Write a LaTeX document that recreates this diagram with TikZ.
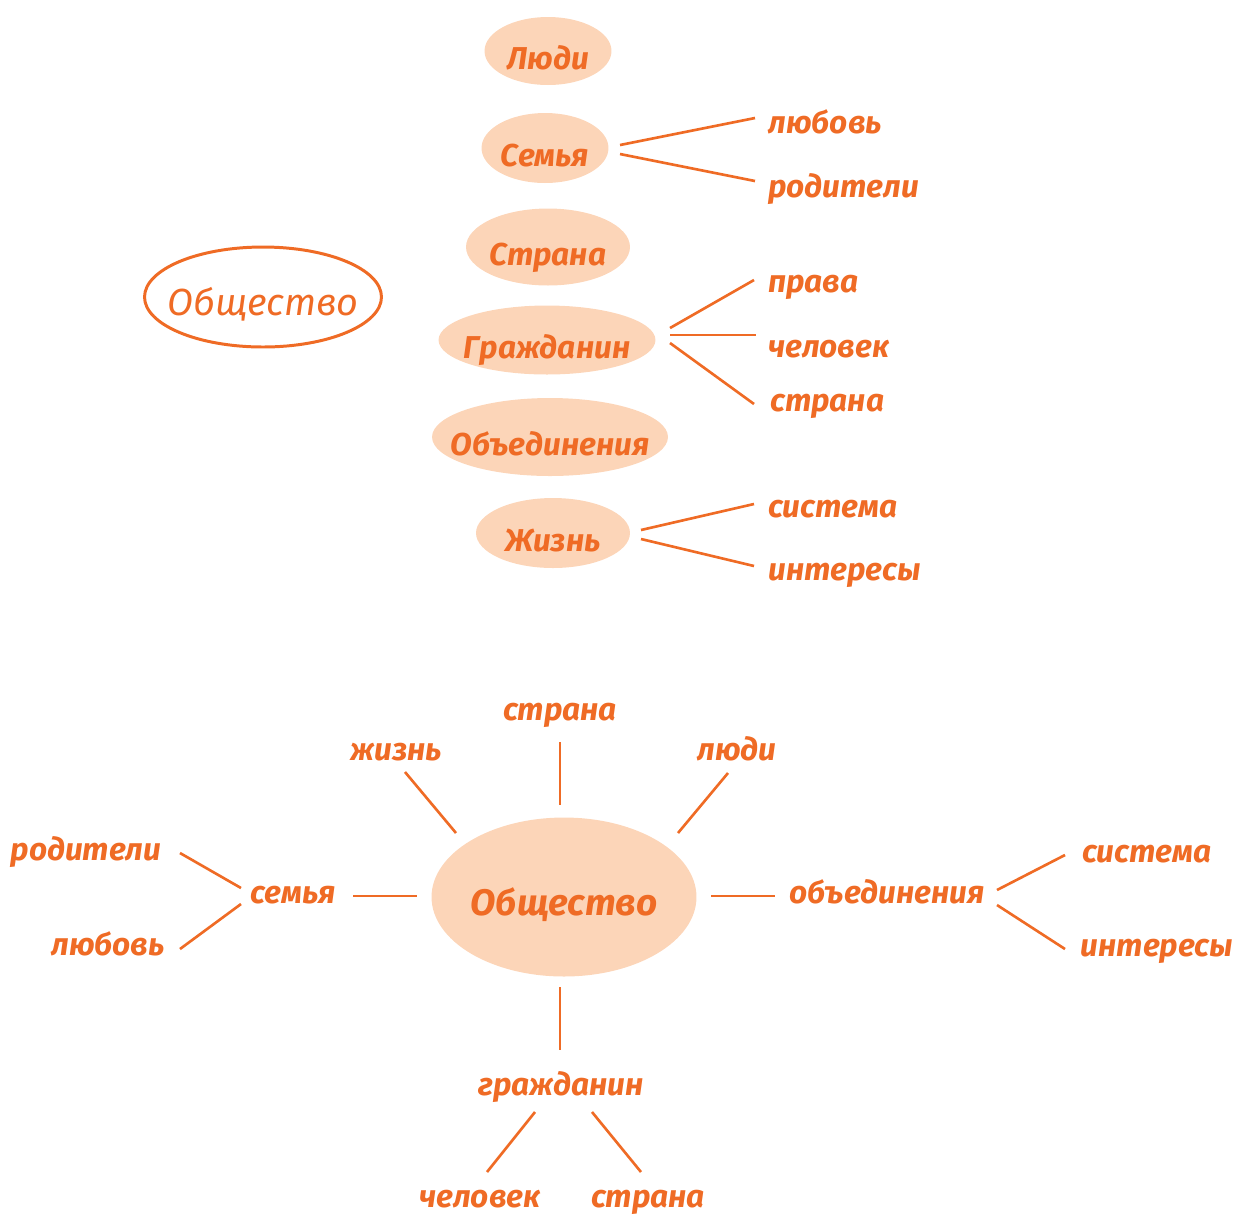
\documentclass[tikz,border=0pt]{standalone}
\usepackage{fontspec}
\setmainfont{Fira Sans}
\usetikzlibrary{shapes.geometric}
\definecolor{orng}{HTML}{EF6B25}
\definecolor{peach}{HTML}{FCD5B8}
\newcommand{\blobtxt}[1]{\makebox[0pt]{\raisebox{-0.3em}{#1}}}
\begin{document}
\begin{tikzpicture}[x=0.02cm,y=-0.02cm,
  hand/.style={font=\fontsize{18}{20}\selectfont\bfseries\itshape},
  lbl/.style={hand,text=orng,inner sep=0pt,text height=0.75em,text depth=0.25em},
  lblw/.style={lbl,anchor=base west},
  lblc/.style={lbl,anchor=base},
  blob/.style={hand,ellipse,fill=peach,text=orng,inner sep=0pt,text height=1.0em,text depth=0pt},
  big/.style={font=\fontsize{21.5}{24}\selectfont\itshape,text=orng,ellipse,inner sep=0pt,text height=0.8em,text depth=0pt},
  ln/.style={draw=orng,line width=1.5pt}]
\useasboundingbox (0,0) rectangle (1236,1215);

% ---------- top part ----------
\node[big,draw=orng,line width=1.7pt,minimum width=4.74cm,minimum height=2.0cm] (obshT) at (263,297) {\blobtxt{Общество}};

\node[blob,minimum width=2.54cm,minimum height=1.36cm] (lyudi) at (548,51) {\blobtxt{Люди}};
\node[blob,minimum width=2.54cm,minimum height=1.40cm] (semya) at (545,148) {\blobtxt{Семья}};
\node[blob,minimum width=3.28cm,minimum height=1.54cm] (strana) at (548,247) {\blobtxt{Страна}};
\node[blob,minimum width=4.34cm,minimum height=1.38cm] (grazh) at (547,340) {\blobtxt{Гражданин}};
\node[blob,minimum width=4.72cm,minimum height=1.56cm] (obed) at (550,437) {\blobtxt{Объединения}};
\node[blob,minimum width=3.08cm,minimum height=1.40cm] (zhizn) at (553,533) {\blobtxt{Жизнь}};

\node[lblw] (lubovT) at (768,133) {любовь};
\node[lblw] (roditT) at (768,197) {родители};
\node[lblw] (pravaT) at (768,292) {права};
\node[lblw] (chelT) at (768,357) {человек};
\node[lblw] (stranaT) at (770,411) {страна};
\node[lblw] (sistT) at (768,517) {система};
\node[lblw] (interT) at (768,580) {интересы};

\draw[ln] ([shift={(75,-3)}]semya.center) -- ([shift={(-13,-15)}]lubovT.base west);
\draw[ln] ([shift={(75,6)}]semya.center) -- ([shift={(-13,-16)}]roditT.base west);
\draw[ln] ([shift={(123,-12)}]grazh.center) -- ([shift={(-14,-12)}]pravaT.base west);
\draw[ln] ([shift={(123,-5)}]grazh.center) -- ([shift={(-12,-22)}]chelT.base west);
\draw[ln] ([shift={(123,3)}]grazh.center) -- ([shift={(-16,-7)}]stranaT.base west);
\draw[ln] ([shift={(88,-3)}]zhizn.center) -- ([shift={(-14,-13)}]sistT.base west);
\draw[ln] ([shift={(88,6)}]zhizn.center) -- ([shift={(-14,-14)}]interT.base west);

% ---------- bottom part ----------
\node[big,font=\fontsize{21}{24}\selectfont\bfseries\itshape,fill=peach,minimum width=5.30cm,minimum height=3.18cm] (obsh) at (564,897) {\blobtxt{Общество}};

\node[lblc] (stranaB) at (560,720) {страна};
\node[lblc] (zhiznB) at (396,760) {жизнь};
\node[lblc] (lyudiB) at (737,760) {люди};
\node[lblc] (semyaB) at (293,903) {семья};
\node[lblc] (roditB) at (86,860) {родители};
\node[lblc] (lubovB) at (108,955) {любовь};
\node[lblc] (obedB) at (887,903) {объединения};
\node[lblc] (sistB) at (1147,862) {система};
\node[lblc] (interB) at (1157,956) {интересы};
\node[lblc] (grazhB) at (561,1095) {гражданин};
\node[lblc] (chelB) at (480,1207) {человек};
\node[lblc] (stranaB2) at (648,1207) {страна};

\draw[ln] ([shift={(0,22)}]stranaB.base) -- ([shift={(-4,-92)}]obsh.center);
\draw[ln] ([shift={(9,12)}]zhiznB.base) -- ([shift={(-108,-64)}]obsh.center);
\draw[ln] ([shift={(-9,13)}]lyudiB.base) -- ([shift={(114,-64)}]obsh.center);
\draw[ln] ([shift={(60,-7)}]semyaB.base) -- ([shift={(-147,-1)}]obsh.center);
\draw[ln] ([shift={(94,-7)}]roditB.base) -- ([shift={(-52,-15)}]semyaB.base);
\draw[ln] ([shift={(72,-6)}]lubovB.base) -- ([shift={(-52,1)}]semyaB.base);
\draw[ln] ([shift={(147,-1)}]obsh.center) -- ([shift={(-112,-7)}]obedB.base);
\draw[ln] ([shift={(110,-13)}]obedB.base) -- ([shift={(-82,-7)}]sistB.base);
\draw[ln] ([shift={(110,2)}]obedB.base) -- ([shift={(-92,-7)}]interB.base);
\draw[ln] ([shift={(-4,90)}]obsh.center) -- ([shift={(-1,-45)}]grazhB.base);
\draw[ln] ([shift={(-26,17)}]grazhB.base) -- ([shift={(7,-35)}]chelB.base);
\draw[ln] ([shift={(31,17)}]grazhB.base) -- ([shift={(-7,-35)}]stranaB2.base);
\end{tikzpicture}
\end{document}
